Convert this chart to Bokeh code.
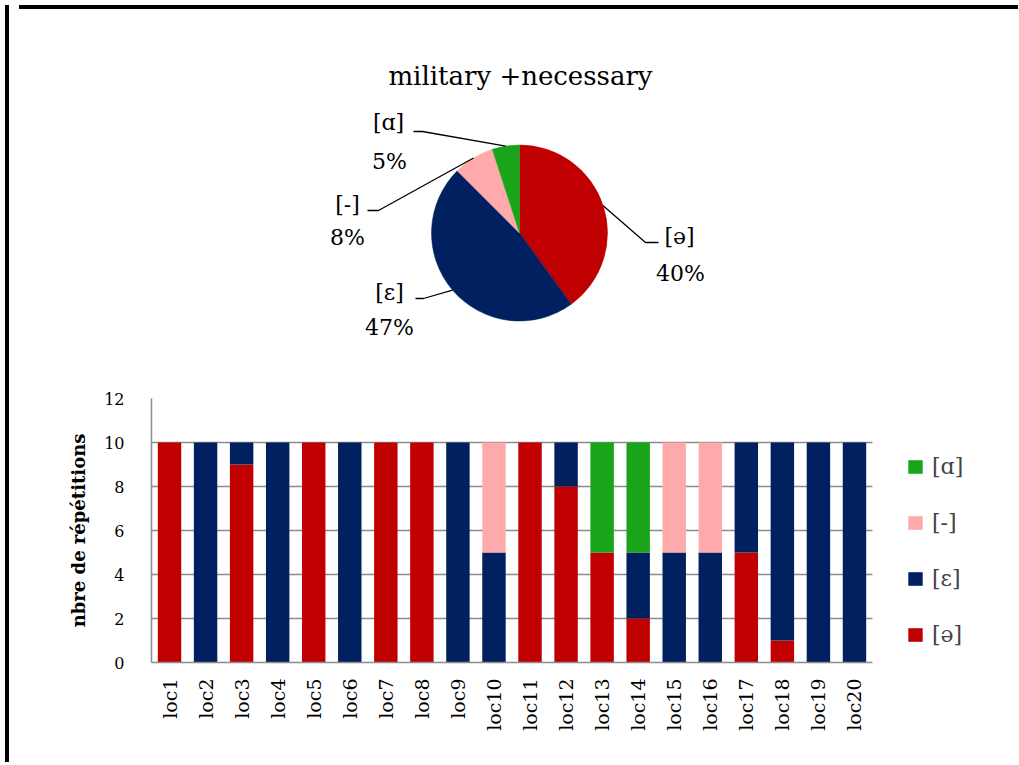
import math
from bokeh.plotting import figure
from bokeh.models import Range1d, FixedTicker, Legend, LegendItem, ColumnDataSource, Div
from bokeh.layouts import column, row
from bokeh.embed import file_html
from bokeh.resources import INLINE
from bokeh.core.properties import value

# ---------------- data ----------------
locations = [f"loc{i}" for i in range(1, 21)]
series_keys = ["schwa", "epsilon", "dash", "alpha"]
series_labels = ["[ə]", "[ɛ]", "[-]", "[ɑ]"]
series_colors = ["#C00000", "#002060", "#FFAAAA", "#19A519"]
schwa = [10, 0, 9, 0, 10, 0, 10, 10, 0, 0, 10, 8, 5, 2, 0, 0, 5, 1, 0, 0]
epsilon = [0, 10, 1, 10, 0, 10, 0, 0, 10, 5, 0, 2, 0, 3, 5, 5, 5, 9, 10, 10]
dash = [0, 0, 0, 0, 0, 0, 0, 0, 0, 5, 0, 0, 0, 0, 5, 5, 0, 0, 0, 0]
alpha = [0, 0, 0, 0, 0, 0, 0, 0, 0, 0, 0, 0, 5, 5, 0, 0, 0, 0, 0, 0]
pie_pct_labels = ["40%", "47%", "8%", "5%"]
y_ticks = [0, 2, 4, 6, 8, 10, 12]
title_text = "military +necessary"
y_title = "nbre de répétitions"

FONT = "DejaVu Serif"
GRID = "#8C8C8C"

PW, PH = 999, 360
BL = 137            # left border shared by both figures (frames are aligned)
OX, OY = 14, 14     # page offset of the pie canvas


def X(px):
    return px - OX


def Y(py):
    return OY + PH - py


# ---------------- pie ----------------
pie = figure(width=PW, height=PH, x_range=Range1d(BL, PW), y_range=Range1d(0, PH),
             output_backend="svg", toolbar_location=None, min_border=0, min_border_left=BL)
pie.axis.visible = False
pie.grid.visible = False
pie.outline_line_color = None

pie_values = [sum(schwa), sum(epsilon), sum(dash), sum(alpha)]
total = sum(pie_values)
cx, cy, r = X(519), Y(232.5), 88
starts, ends, mids = [], [], []
cum = 0
for v in pie_values:
    a0 = math.pi / 2 - 2 * math.pi * cum / total
    cum += v
    a1 = math.pi / 2 - 2 * math.pi * cum / total
    starts.append(a0)
    ends.append(a1)
    mids.append((a0 + a1) / 2)

src = ColumnDataSource(dict(start=starts, end=ends, color=series_colors))
pie.wedge(x=cx, y=cy, radius=r, start_angle="start", end_angle="end", direction="clock",
          fill_color="color", line_color="color", line_width=0.5, source=src)

# leader lines: slice mid-point on the rim -> elbow -> end
elbows = [((645, 242), (658, 242)),
          ((423, 298), (415, 298)),
          ((378, 210), (367, 210)),
          ((422, 131), (413, 131))]
for m, (e1, e2) in zip(mids, elbows):
    xs = [cx + r * math.cos(m), X(e1[0]), X(e2[0])]
    ys = [cy + r * math.sin(m), Y(e1[1]), Y(e2[1])]
    pie.line(xs, ys, line_color="black", line_width=1.3)

label_pos = [((679, 236), (680, 273)),
             ((389, 292), (389, 327)),
             ((347, 204), (347, 237)),
             ((388, 122), (389, 161))]
for lab, pct, (p1, p2) in zip(series_labels, pie_pct_labels, label_pos):
    pie.text(x=[X(p1[0])], y=[Y(p1[1])], text=[lab], text_font=value(FONT),
             text_font_size="22px", text_align="center", text_baseline="middle", text_color="black")
    pie.text(x=[X(p2[0])], y=[Y(p2[1])], text=[pct], text_font=value(FONT),
             text_font_size="22px", text_align="center", text_baseline="middle", text_color="black")

pie.text(x=[X(520)], y=[Y(75)], text=[title_text], text_font=value(FONT), text_font_size="26px",
         text_align="center", text_baseline="middle", text_color="black")

# ---------------- bars ----------------
n = len(locations)
slot_px = 721 / n                       # width of one category slot on screen
x_end = (PW - BL) / slot_px             # frame continues to the right, to hold the legend
xs_center = [i + 0.5 for i in range(n)]

bar = figure(width=PW, height=393, x_range=Range1d(0, x_end), y_range=Range1d(0, 12),
             output_backend="svg", toolbar_location=None,
             min_border_left=BL, min_border_right=0, min_border_top=24, min_border_bottom=105)
bar.outline_line_color = None
bsrc = ColumnDataSource(dict(x=xs_center, loc=locations, schwa=schwa, epsilon=epsilon,
                             dash=dash, alpha=alpha))
rs = bar.vbar_stack(series_keys, x="x", width=0.65, color=series_colors, line_color=None, source=bsrc)

bar.xgrid.grid_line_color = None
bar.ygrid.grid_line_color = GRID
bar.ygrid.grid_line_width = 1.5
bar.ygrid.ticker = FixedTicker(ticks=y_ticks)
bar.ygrid.cross_bounds = (0, n)
bar.yaxis.ticker = FixedTicker(ticks=y_ticks)
bar.xaxis.ticker = FixedTicker(ticks=xs_center)
bar.xaxis.major_label_overrides = {x: loc for x, loc in zip(xs_center, locations)}
bar.xaxis.bounds = (0, n)
for ax in (bar.xaxis[0], bar.yaxis[0]):
    ax.axis_line_color = GRID
    ax.axis_line_width = 1.5
    ax.major_tick_line_color = None
    ax.minor_tick_line_color = None
    ax.major_tick_out = 0
    ax.major_tick_in = 0
    ax.minor_tick_out = 0
    ax.minor_tick_in = 0
    ax.major_label_text_font = FONT
    ax.major_label_text_color = "black"
bar.yaxis.major_label_text_font_size = "16px"
bar.yaxis.major_label_standoff = 27
bar.yaxis.axis_label = y_title
bar.yaxis.axis_label_text_font = FONT
bar.yaxis.axis_label_text_font_size = "18px"
bar.yaxis.axis_label_text_font_style = "bold"
bar.yaxis.axis_label_text_color = "black"
bar.yaxis.axis_label_standoff = 12
bar.xaxis.major_label_text_font_size = "19px"
bar.xaxis.major_label_orientation = math.pi / 2
bar.xaxis.major_label_standoff = 16

legend = Legend(items=[LegendItem(label=series_labels[i], renderers=[rs[i]]) for i in reversed(range(4))],
                location=(755, 15), glyph_width=18, glyph_height=17, label_standoff=8, spacing=31,
                padding=0, margin=0, border_line_color=None, background_fill_alpha=0,
                label_text_font=FONT, label_text_font_size="22px", label_height=22)
bar.add_layout(legend, "center")

left_strip = Div(width=4, height=757, styles={"background-color": "black"})
top_strip = Div(width=PW, height=4, styles={"background-color": "black"})
layout = row(left_strip, column(top_strip, pie, bar, spacing=0), spacing=0)

open("out.html", "w").write(file_html(layout, INLINE))
